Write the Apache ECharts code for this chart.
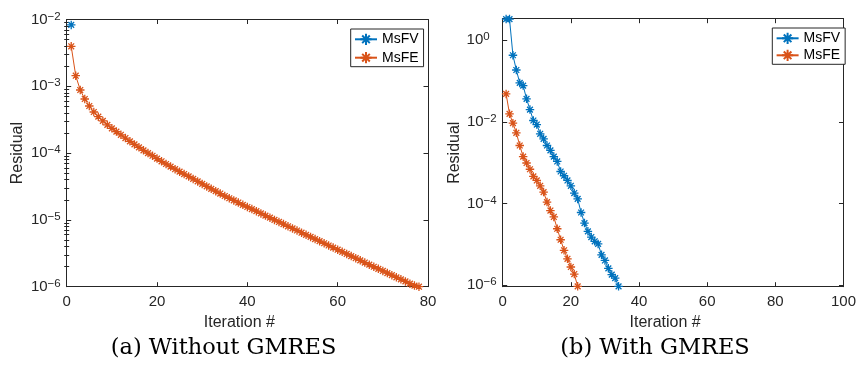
<!DOCTYPE html>
<html>
<head>
<meta charset="utf-8">
<script src="https://cdn.jsdelivr.net/npm/echarts@6/dist/echarts.min.js"></script>
<style>
  html, body { margin: 0; padding: 0; background: #fff; }
  #chart { width: 859px; height: 369px; }
</style>
</head>
<body>
<div id="chart"></div>
<script>
// (a) without GMRES: residual per iteration (iteration = index + 1)
const msfvNoGmres = [8.3e-3]
const msfeNoGmres = [
  3.97e-3, 1.44e-3, 8.81e-4, 6.46e-4, 5.07e-4, 4.12e-4, 3.51e-4, 3.03e-4, 2.65e-4, 2.35e-4,
  2.10e-4, 1.88e-4, 1.68e-4, 1.50e-4, 1.35e-4, 1.22e-4, 1.10e-4, 1.00e-4, 9.12e-5, 8.28e-5,
  7.54e-5, 6.87e-5, 6.28e-5, 5.74e-5, 5.28e-5, 4.86e-5, 4.48e-5, 4.11e-5, 3.77e-5, 3.46e-5,
  3.17e-5, 2.92e-5, 2.69e-5, 2.48e-5, 2.28e-5, 2.11e-5, 1.96e-5, 1.82e-5, 1.68e-5, 1.56e-5,
  1.45e-5, 1.35e-5, 1.25e-5, 1.16e-5, 1.08e-5, 1.00e-5, 9.31e-6, 8.66e-6, 8.02e-6, 7.46e-6,
  6.94e-6, 6.43e-6, 5.98e-6, 5.57e-6, 5.16e-6, 4.80e-6, 4.47e-6, 4.14e-6, 3.85e-6, 3.58e-6,
  3.33e-6, 3.09e-6, 2.87e-6, 2.67e-6, 2.48e-6, 2.30e-6, 2.14e-6, 1.99e-6, 1.85e-6, 1.72e-6,
  1.60e-6, 1.49e-6, 1.38e-6, 1.29e-6, 1.20e-6, 1.11e-6, 1.04e-6, 1.00e-6,
]

// (b) with GMRES
const msfvGmres = [
  3.3, 3.3, 0.43, 0.187, 0.090, 0.0776, 0.0366, 0.020, 0.0108, 8.6e-3,
  5.1e-3, 3.84e-3, 2.63e-3, 2.0e-3, 1.41e-3, 1.07e-3, 6.07e-4, 4.78e-4, 3.66e-4, 2.71e-4,
  1.8e-4, 1.29e-4, 6.0e-5, 3.3e-5, 2.07e-5, 1.5e-5, 1.18e-5, 1.02e-5, 5.5e-6, 4.0e-6,
  2.57e-6, 1.8e-6, 1.48e-6, 9.3e-7,
]
const msfeGmres = [
  0.0484, 0.0157, 9.3e-3, 5.4e-3, 2.63e-3, 1.41e-3, 9.8e-4, 6.9e-4, 4.6e-4, 3.66e-4,
  2.71e-4, 1.9e-4, 1.08e-4, 6.7e-5, 4.66e-5, 2.4e-5, 1.29e-5, 7.1e-6, 4.4e-6, 2.77e-6,
  1.86e-6, 9.3e-7,
]

const yTicksA = [1e-6, 1e-5, 1e-4, 1e-3, 1e-2]
const yTicksB = [1e-6, 1e-4, 1e-2, 1]
const captions = ['(a) Without GMRES', '(b) With GMRES']

// minor log ticks for panel (a): 2..9 x 10^n
const yMinorA = []
for (let e = -6; e < -2; e++) {
  for (let k = 2; k <= 9; k++) yMinorA.push(k * Math.pow(10, e))
}

const BLUE = '#0072BD'
const ORANGE = '#D95319'
const AX = '#262626'
const FONT = 'Liberation Sans'
const star = 'path://M5,0L5,10M0,5L10,5M1.6,1.6L8.4,8.4M1.6,8.4L8.4,1.6'

const toXY = (arr) => arr.map((v, i) => [i + 1, v])

const supLabel = {
  formatter: (v) => {
    const e = Math.round(Math.log10(v))
    return e < 0 ? `{b|10}{s|\u2212${-e}}` : `{b|10}{z|${e}}`
  },
  rich: {
    b: { fontSize: 15, lineHeight: 18, color: AX, fontFamily: FONT },
    s: { fontSize: 11.5, lineHeight: 13, verticalAlign: 'top', color: AX, fontFamily: FONT },
    z: { fontSize: 11.5, lineHeight: 13, verticalAlign: 'top', color: AX, fontFamily: FONT, padding: [0, 7, 0, 0] },
  },
}

function xAxes(gridIndex, max) {
  const base = {
    type: 'value', gridIndex, min: 0, max, interval: 20,
    axisLine: { show: true, onZero: false, lineStyle: { color: AX, width: 1 } },
    axisTick: { inside: true, length: 4.5, lineStyle: { color: AX } },
    splitLine: { show: false },
  }
  return [
    {
      ...base, position: 'bottom',
      axisLabel: { color: AX, fontSize: 15, fontFamily: FONT, margin: 8 },
      name: 'Iteration #', nameLocation: 'middle', nameGap: 25,
      nameTextStyle: { color: AX, fontSize: 16, fontFamily: FONT, padding: [0, 16, 0, 0] },
    },
    { ...base, position: 'top', axisLabel: { show: false } },
  ]
}

function yAxes(gridIndex, min, max, ticks, nameGap) {
  const base = {
    type: 'log', gridIndex, min, max,
    axisLine: { show: true, onZero: false, lineStyle: { color: AX, width: 1 } },
    axisTick: { inside: true, length: 4.5, customValues: ticks, lineStyle: { color: AX } },
    splitLine: { show: false },
    minorTick: { show: false },
  }
  return [
    {
      ...base, position: 'left',
      axisLabel: { ...supLabel, customValues: ticks, margin: 6 },
      name: 'Residual', nameLocation: 'middle', nameGap,
      nameTextStyle: { color: AX, fontSize: 16, fontFamily: FONT },
    },
    { ...base, position: 'right', axisLabel: { show: false } },
  ]
}

function minorAxis(gridIndex, min, max, ticks, position) {
  return {
    type: 'log', gridIndex, min, max, position,
    axisLine: { show: false },
    axisTick: { inside: true, length: 2.5, customValues: ticks, lineStyle: { color: AX } },
    axisLabel: { show: false },
    splitLine: { show: false },
  }
}

function lineSeries(name, color, xIdx, yIdx, data) {
  return {
    name, type: 'line', xAxisIndex: xIdx, yAxisIndex: yIdx,
    data: toXY(data),
    symbol: star, symbolSize: 8.5,
    itemStyle: { color, borderColor: color, borderWidth: 1.3 },
    lineStyle: { color, width: 1 },
    emphasis: { disabled: true },
  }
}

const legendBase = {
  orient: 'vertical', itemWidth: 22, itemHeight: 14,
  backgroundColor: '#fff', borderColor: AX, borderWidth: 1, borderRadius: 0,
  textStyle: { color: '#000', fontSize: 14, fontFamily: FONT },
  data: ['MsFV', 'MsFE'],
}

const chart = echarts.init(document.getElementById('chart'), null, { renderer: 'canvas' })
chart.setOption({
  animation: false,
  backgroundColor: '#fff',
  grid: [
    { left: 66.7, top: 19.5, width: 361.3, height: 267.2, containLabel: false },
    { left: 502.7, top: 18.7, width: 345, height: 268, containLabel: false },
  ],
  xAxis: [...xAxes(0, 80), ...xAxes(1, 100)],
  yAxis: [
    ...yAxes(0, 1e-6, 1e-2, yTicksA, 41),
    ...yAxes(1, 9.1e-7, 3.38, yTicksB, 38),
    minorAxis(0, 1e-6, 1e-2, yMinorA, 'left'),
    minorAxis(0, 1e-6, 1e-2, yMinorA, 'right'),
  ],
  legend: [
    { ...legendBase, left: 350.7, top: 29, itemGap: 4.4, padding: [3.3, 5, 2, 3.3] },
    { ...legendBase, left: 772.3, top: 28, itemGap: 3, padding: [3.3, 5, 2, 3.3] },
  ],
  series: [
    lineSeries('MsFV', BLUE, 0, 0, msfvNoGmres),
    lineSeries('MsFE', ORANGE, 0, 0, msfeNoGmres),
    lineSeries('MsFV', BLUE, 2, 2, msfvGmres),
    lineSeries('MsFE', ORANGE, 2, 2, msfeGmres),
  ],
  graphic: [
    { type: 'text', x: 223.5, y: 348, style: { text: captions[0], fill: '#000', font: '22.5px "DejaVu Serif"', align: 'center', verticalAlign: 'middle' } },
    { type: 'text', x: 655, y: 348, style: { text: captions[1], fill: '#000', font: '22.5px "DejaVu Serif"', align: 'center', verticalAlign: 'middle' } },
  ],
})
</script>
</body>
</html>
